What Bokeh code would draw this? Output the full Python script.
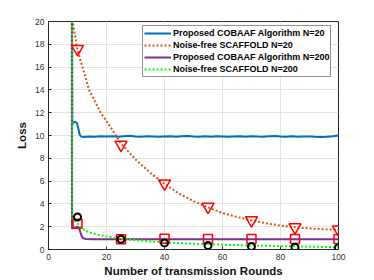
from bokeh.plotting import figure
from bokeh.models import Legend, LegendItem, FixedTicker, Range1d
from bokeh.embed import file_html
from bokeh.resources import INLINE

# ---------------- data ----------------
blue_x = [8, 8.2, 8.6, 9.2, 9.8, 10.3, 10.8, 11.3, 12, 13, 14,
          16, 18, 20, 22, 24, 26, 28, 30, 32, 34, 36, 38, 40, 42, 44, 46, 48, 50,
          52, 54, 56, 58, 60, 62, 64, 66, 68, 70, 72, 74, 76, 78, 80, 82, 84, 86,
          88, 90, 92, 94, 96, 98, 100]
blue_y = [40, 11.0, 11.15, 11.2, 11.1, 10.6, 10.05, 9.9, 9.86, 9.9, 9.92,
          9.9, 9.94, 9.91, 9.93, 9.89, 9.94, 9.97, 9.92, 9.9, 9.94, 9.91, 9.88,
          9.92, 9.94, 9.9, 9.93, 9.96, 9.91, 9.89, 9.93, 9.9, 9.94, 9.92, 9.88,
          9.91, 9.93, 9.9, 9.94, 9.91, 9.89, 9.94, 9.96, 9.91, 9.9, 9.93, 9.89,
          9.92, 9.91, 9.88, 9.87, 9.9, 9.94, 9.99]

orange_x = [8, 10, 14, 18, 22, 25, 30, 35, 40, 45, 50, 55, 60, 65, 70, 75,
            80, 85, 90, 95, 100]
orange_y = [20.5, 17.5, 14.0, 12.0, 10.5, 9.3, 7.9, 6.75, 5.75, 4.9, 4.25,
            3.7, 3.2, 2.85, 2.55, 2.3, 2.1, 1.95, 1.85, 1.78, 1.72]

purple_x = [8, 8.1, 9, 10, 10.5, 11, 11.5, 12, 13, 15, 20, 30, 40, 50, 60,
            70, 80, 90, 100]
purple_y = [40, 1.85, 1.9, 2.0, 1.9, 1.5, 1.15, 0.98, 0.92, 0.9, 0.9, 0.9,
            0.9, 0.9, 0.9, 0.9, 0.9, 0.9, 0.9]

green_x = [8, 8.2, 10, 12, 14, 17, 20, 25, 30, 40, 50, 60, 70, 80, 90, 100]
green_y = [40, 2.7, 2.3, 1.75, 1.5, 1.3, 1.15, 0.95, 0.82, 0.62, 0.5, 0.42,
           0.35, 0.3, 0.25, 0.2]

marker_x = [10, 25, 40, 55, 70, 85, 100]
tri_y = [17.6, 9.2, 5.8, 3.75, 2.57, 1.95, 1.75]
sq_y = [2.25, 0.9, 0.95, 0.92, 0.92, 0.92, 0.92]
circ_y = [2.85, 0.9, 0.58, 0.35, 0.26, 0.2, 0.15]

labels = ["Proposed COBAAF Algorithm N=20", "Noise-free SCAFFOLD N=20",
          "Proposed COBAAF Algorithm N=200", "Noise-free SCAFFOLD N=200"]
x_ticks = [0, 20, 40, 60, 80, 100]
y_ticks = [0, 2, 4, 6, 8, 10, 12, 14, 16, 18, 20]

# ---------------- figure ----------------
p = figure(width=374, height=280, output_backend="svg", toolbar_location=None,
           x_range=Range1d(0, 100), y_range=Range1d(0, 20),
           min_border_left=48, min_border_right=36, min_border_top=21,
           min_border_bottom=31)
p.background_fill_color = "white"
p.border_fill_color = "white"
p.outline_line_color = "#262626"
p.outline_line_width = 1

for ax in (p.xaxis[0], p.yaxis[0]):
    ax.axis_line_color = "#262626"
    ax.major_tick_line_color = "#262626"
    ax.major_tick_in = 3
    ax.major_tick_out = 0
    ax.minor_tick_line_color = None
    ax.major_label_text_font = "Liberation Sans"
    ax.major_label_text_font_size = "8.5px"
    ax.major_label_text_color = "#333333"
    ax.axis_label_text_font = "Liberation Sans"
    ax.axis_label_text_font_size = "11.5px"
    ax.axis_label_text_font_style = "bold"
    ax.axis_label_text_color = "#111111"

p.xaxis[0].ticker = FixedTicker(ticks=x_ticks)
p.yaxis[0].ticker = FixedTicker(ticks=y_ticks)
p.xaxis.axis_label = "Number of transmission Rounds"
p.yaxis.axis_label = "Loss"
p.xaxis.major_label_standoff = 4
p.yaxis.major_label_standoff = 4
p.xaxis.axis_label_standoff = 2
p.yaxis.axis_label_standoff = 4

p.xgrid.ticker = FixedTicker(ticks=x_ticks)
p.ygrid.ticker = FixedTicker(ticks=y_ticks)
p.grid.grid_line_color = "#e3e3e3"
p.grid.grid_line_width = 1

r1 = p.line(blue_x, blue_y, line_color="#0072BD", line_width=2)
r2 = p.line(orange_x, orange_y, line_color="#D95319", line_width=2, line_dash="2 2")
r3 = p.line(purple_x, purple_y, line_color="#7E2F8E", line_width=2)
r4 = p.line(green_x, green_y, line_color="#00FF00", line_width=2, line_dash="2 2")

p.scatter(marker_x, tri_y, marker="inverted_triangle", size=12,
          line_color="#FF0000", line_width=1.5, fill_color=None)
p.scatter(marker_x, sq_y, marker="square", size=9,
          line_color="#FF0000", line_width=1.5, fill_color=None)
p.scatter(marker_x, circ_y, marker="circle", size=7,
          line_color="#000000", line_width=2, fill_color=None)

legend = Legend(items=[LegendItem(label=labels[0], renderers=[r1]),
                       LegendItem(label=labels[1], renderers=[r2]),
                       LegendItem(label=labels[2], renderers=[r3]),
                       LegendItem(label=labels[3], renderers=[r4])],
                location=(94, 172))
legend.label_text_font = "Liberation Sans"
legend.label_text_font_size = "9px"
legend.label_text_font_style = "bold"
legend.label_text_color = "#000000"
legend.label_height = 12
legend.glyph_height = 12
legend.glyph_width = 27
legend.label_standoff = 2
legend.spacing = 0
legend.padding = 1
legend.margin = 0
legend.border_line_color = "#262626"
legend.border_line_width = 1
legend.background_fill_color = "white"
legend.background_fill_alpha = 1
p.add_layout(legend)

open("out.html", "w").write(file_html(p, INLINE))
